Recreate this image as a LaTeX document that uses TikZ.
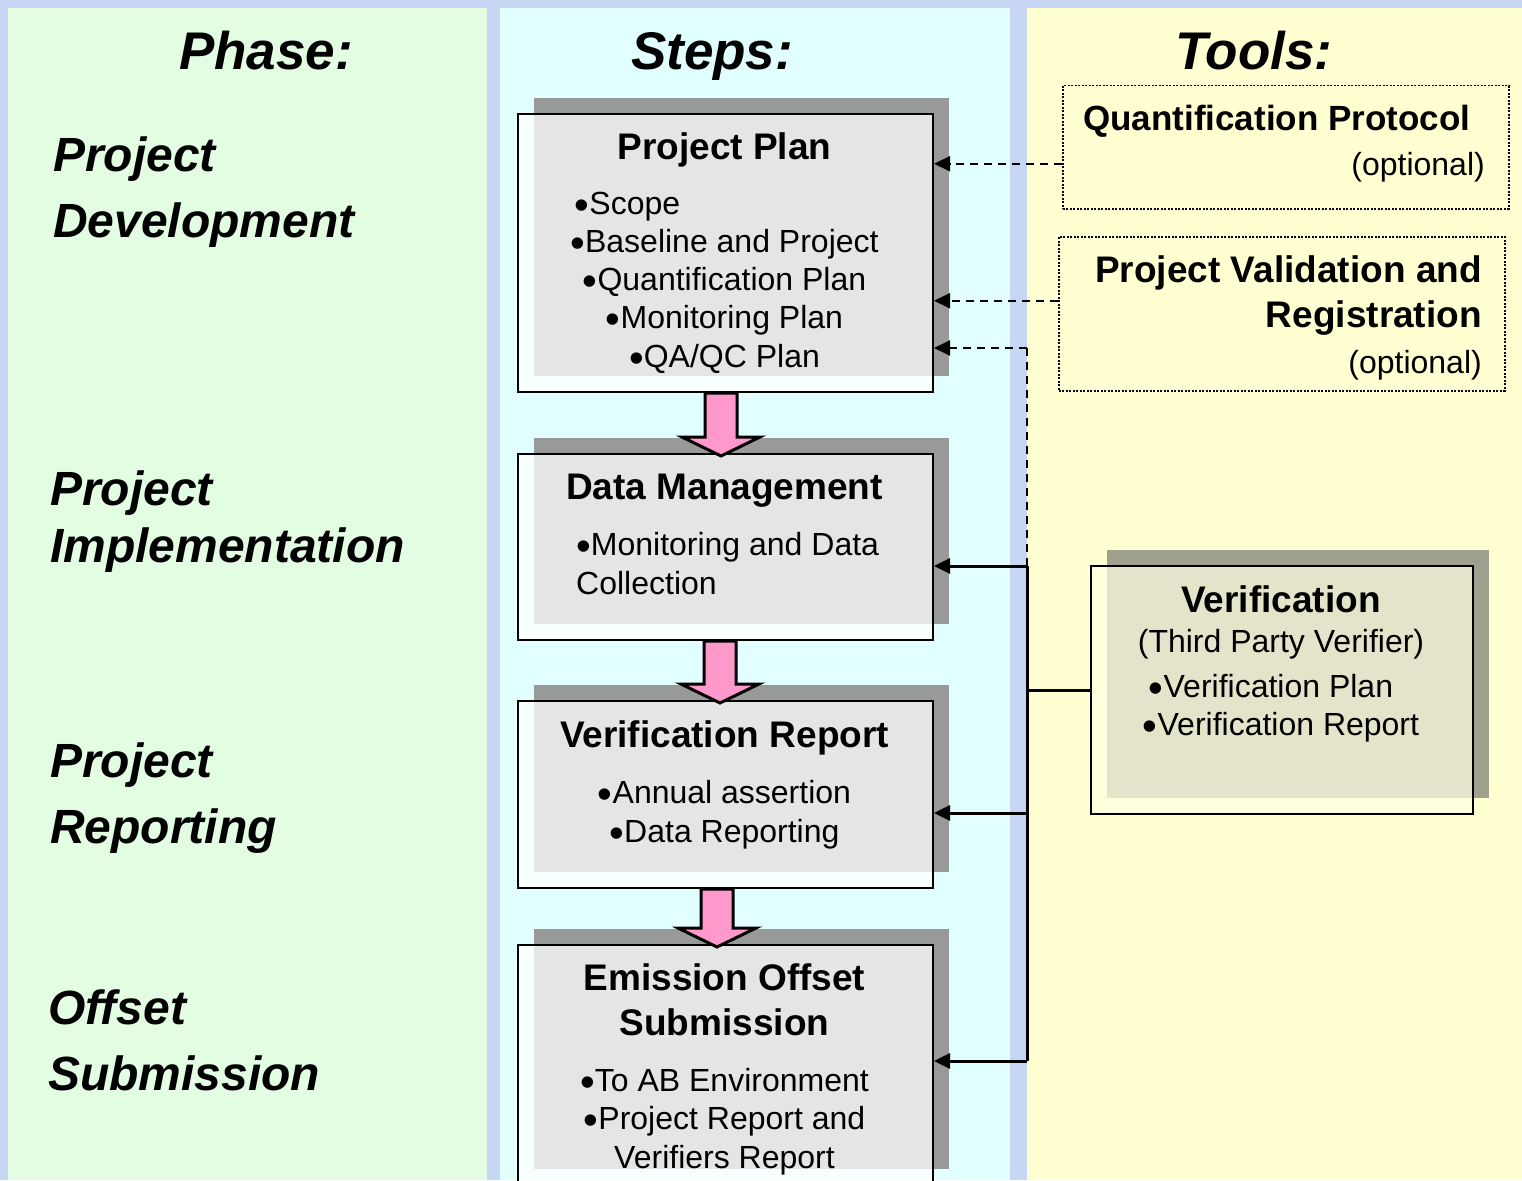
\documentclass[tikz,border=0pt]{standalone}
\usepackage{fontspec}
\setmainfont{Liberation Sans}
\usetikzlibrary{arrows.meta,calc,shadows,positioning}

\definecolor{bgblue}{RGB}{198,214,243}
\definecolor{phasegreen}{RGB}{226,253,226}
\definecolor{stepcyan}{RGB}{226,255,255}
\definecolor{toolyellow}{RGB}{255,255,210}
\definecolor{paleyellow}{RGB}{255,255,226}
\definecolor{shadegray}{RGB}{152,154,154}
\definecolor{shadekhaki}{RGB}{160,160,142}
\definecolor{arrowpink}{RGB}{255,153,204}
\newcommand{\bul}{\raisebox{-5pt}{\fontsize{42}{0}\selectfont•}}

\begin{document}
\begin{tikzpicture}[x=1pt,y=-1pt,
        stepbox/.style={draw=black,line width=2pt,fill=white,fill opacity=0.75,inner sep=0pt,anchor=north west,minimum width=415pt,
            general shadow={shadow xshift=16pt,shadow yshift=16pt,fill=shadegray,opacity=1}},
        verbox/.style={draw=black,line width=2pt,fill=paleyellow,fill opacity=0.72,inner sep=0pt,anchor=north west,
            general shadow={shadow xshift=16pt,shadow yshift=16pt,fill=shadekhaki,opacity=1}},
        toolbox/.style={draw=black,line width=1.5pt,dash pattern=on 2pt off 1.5pt,inner sep=0pt,anchor=north west,minimum width=446pt},
        colhead/.style={font=\fontsize{53}{60}\selectfont\bfseries\itshape,anchor=base,inner sep=0pt},
        phaselabel/.style={font=\fontsize{48}{66}\selectfont\bfseries\itshape,anchor=base west,align=left,inner sep=0pt},
        boxtitle/.style={font=\fontsize{37}{45}\selectfont\bfseries,anchor=base,align=center,inner sep=0pt},
        bulletlist/.style={font=\fontsize{32}{38.25}\selectfont,anchor=base,align=center,inner sep=0pt},
        feedarrow/.style={line width=3pt,-{Triangle[length=16pt,width=15pt]}},
        dashlink/.style={line width=2pt,dash pattern=on 8pt off 6pt},
        blockarrow/.style={draw=black,line width=3pt,fill=arrowpink,line join=miter}]
    \useasboundingbox (0,0) rectangle (1522,1180);
    \fill[bgblue] (0,0) rectangle (1522,1180);
    \fill[phasegreen] (8,8) rectangle (487,1180);
    \fill[stepcyan] (500,8) rectangle (1010,1180);
    \fill[toolyellow] (1027,8) rectangle (1522,1180);

    \node[colhead] (phasehead) at (266,70) {Phase:};
    \node[colhead] (stepshead) at (712,70) {Steps:};
    \node[colhead] (toolshead) at (1254,70) {Tools:};

    % multi-line nodes sit on their last baseline
    \node[phaselabel] (devlabel) at (53,237) {Project\\Development};
    \node[phaselabel] (implabel) at (50,562) {Project\\[-9pt]Implementation};
    \node[phaselabel] (replabel) at (50,843) {Project\\Reporting};
    \node[phaselabel] (sublabel) at (48,1090) {Offset\\Submission};

    % steps
    \node[stepbox,minimum height=278pt] (pp) at (517,113) {};
    \node[stepbox,minimum height=186pt] (dm) at (517,453) {};
    \node[stepbox,minimum height=187pt] (vr) at (517,700) {};
    \node[stepbox,minimum height=240pt] (eo) at (517,944) {};

    \node[boxtitle] (pptitle) at (724.5,159) {Project Plan};
    \node[bulletlist] (ppitems) at (724.5,367) {\bul Scope\hspace*{194pt}\\\bul Baseline and Project\\\bul Quantification Plan\\\bul Monitoring Plan\\\bul QA/QC Plan};
    \node[boxtitle] (dmtitle) at (724.5,499) {Data Management};
    \node[bulletlist,anchor=base west,align=left] (dmitems) at (576,594) {\bul Monitoring and Data\\Collection};
    \node[boxtitle] (vrtitle) at (724.5,747) {Verification Report};
    \node[bulletlist] (vritems) at (724.5,842) {\bul Annual assertion\\\bul Data Reporting};
    \node[boxtitle] (eotitle) at (724.5,1035) {Emission Offset\\Submission};
    \node[bulletlist] (eoitems) at (724.5,1168) {\bul To AB Environment\\\bul Project Report and\\Verifiers Report};

    \foreach \a/\b/\dx in {pp/dm/-4.5,dm/vr/-5.5,vr/eo/-8.5}
        \draw[blockarrow] ($(\a.south)+(\dx-16,0)$) -- ($(\b.north)+(\dx-16,-16)$) -- ($(\b.north)+(\dx-39,-16)$)
            -- ($(\b.north)+(\dx,3)$) -- ($(\b.north)+(\dx+39,-16)$) -- ($(\b.north)+(\dx+16,-16)$) -- ($(\a.south)+(\dx+16,0)$) -- cycle;

    % tools
    \node[toolbox,minimum height=123pt] (qp) at (1062,85) {};
    \node[boxtitle,anchor=base west,font=\fontsize{35}{42}\selectfont\bfseries] (qptitle) at (1083,130) {Quantification Protocol};
    \node[bulletlist,anchor=base east] (qpnote) at (1485,175) {(optional)};
    \node[toolbox,minimum height=154pt] (pv) at (1058,236) {};
    \node[boxtitle,anchor=base east,align=right] (pvtitle) at (1482,327) {Project Validation and\\Registration};
    \node[bulletlist,anchor=base east] (pvnote) at (1482,373) {(optional)};

    \node[verbox,minimum width=382pt,minimum height=248pt] (vf) at (1090,565) {};
    \node[boxtitle] (vftitle) at (1281,612) {Verification};
    \node[bulletlist] (vfwho) at (1281,652) {(Third Party Verifier)};
    \node[bulletlist,font=\fontsize{32}{37.5}\selectfont] (vfitems) at (1281,735) {\bul Verification Plan\hspace*{20pt}\\\bul Verification Report};

    % links
    \coordinate (qpout) at ([yshift=-16.5pt]qp.west);
    \coordinate (pvout) at ([yshift=13pt]pv.west);
    \coordinate (s1) at (1027,348);
    \coordinate (s2) at (1027,566);
    \coordinate (s3) at (1027,813);
    \coordinate (s4) at (1027,1061);
    \foreach \s in {qpout,pvout,s1}
        \draw[feedarrow,dashlink] (\s) -- (\s -| pp.east);
    \draw[dashlink] (s1) -- (s2);
    \draw[line width=3pt] (s2) -- (s4);
    \draw[line width=3pt] (vf.west) -- (vf.west -| s1);
    \foreach \s/\b in {s2/dm,s3/vr,s4/eo}
        \draw[feedarrow] (\s) -- (\s -| \b.east);
\end{tikzpicture}
\end{document}
